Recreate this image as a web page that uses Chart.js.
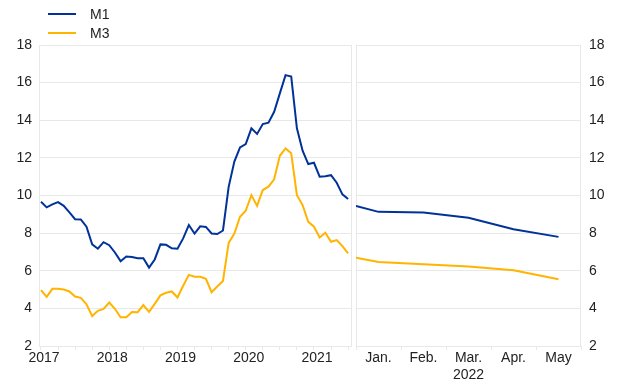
<!DOCTYPE html>
<html>
<head>
<meta charset="utf-8">
<script src="https://cdn.jsdelivr.net/npm/chart.js@4"></script>
<style>
  body { margin: 0; background: #fff; font-family: 'Liberation Sans', Arial, sans-serif; }
  #wrap { position: relative; width: 620px; height: 387px; }
  #left { position: absolute; left: 0; top: 0; }
  #right { position: absolute; left: 355px; top: 0; }
  .leg-line { position: absolute; left: 48px; width: 28px; height: 2px; }
  .leg-text { position: absolute; left: 90px; font-size: 14px; color: #222; line-height: 16px; }
</style>
</head>
<body>
<div id="wrap">
  <canvas id="left" width="355" height="387"></canvas>
  <canvas id="right" width="265" height="387"></canvas>
  <div class="leg-line" style="top:13px;background:#003299"></div>
  <div class="leg-text" style="top:6px">M1</div>
  <div class="leg-line" style="top:32px;background:#FFB400"></div>
  <div class="leg-text" style="top:25px">M3</div>
</div>
<script>
// monthly annual growth rates, Jan 2017 - Jul 2021
const m1 = [9.67, 9.37, 9.53, 9.65, 9.45, 9.1, 8.74, 8.73, 8.34, 7.4, 7.17, 7.52,
  7.36, 6.97, 6.51, 6.76, 6.73, 6.67, 6.67, 6.17, 6.6, 7.4, 7.38, 7.19,
  7.17, 7.72, 8.43, 7.98, 8.36, 8.33, 7.98, 7.95, 8.14, 10.46, 11.8, 12.56,
  12.73, 13.57, 13.27, 13.8, 13.87, 14.45, 15.43, 16.4, 16.32, 13.57, 12.38, 11.67,
  11.74, 11.0, 11.02, 11.08, 10.68, 10.06, 9.81];
const m3 = [4.97, 4.61, 5.04, 5.04, 5.0, 4.9, 4.63, 4.56, 4.22, 3.59, 3.87, 3.97,
  4.31, 3.98, 3.53, 3.53, 3.81, 3.8, 4.17, 3.81, 4.24, 4.69, 4.83, 4.9,
  4.58, 5.2, 5.78, 5.68, 5.68, 5.57, 4.86, 5.16, 5.46, 7.48, 7.98, 8.87,
  9.19, 10.02, 9.45, 10.29, 10.47, 10.86, 12.11, 12.5, 12.24, 10.02, 9.49, 8.6,
  8.34, 7.77, 8.02, 7.54, 7.63, 7.31, 6.92];
const yearLabels = ['2017', '2018', '2019', '2020', '2021'];

// projection panel 2022 (first value is at the panel edge)
const projMonths = ['Jan.', 'Feb.', 'Mar.', 'Apr.', 'May'];
const projYear = '2022';
const projX = [-0.5, 0, 1, 2, 3, 4];
const m1Proj = [9.45, 9.13, 9.1, 8.82, 8.21, 7.8];
const m3Proj = [6.69, 6.46, 6.34, 6.23, 6.03, 5.55];

const style = {
  blue: '#003299',
  yellow: '#FFB400',
  grid: '#e8e8e8',
  text: '#222',
  font: "'Liberation Sans', Arial, sans-serif"
};

Chart.defaults.font.family = style.font;
Chart.defaults.font.size = 14;
Chart.defaults.color = style.text;

// light box round the plot area
const frame = {
  id: 'frame',
  beforeDatasetsDraw(chart) {
    const a = chart.chartArea;
    const ctx = chart.ctx;
    ctx.save();
    ctx.strokeStyle = style.grid;
    ctx.lineWidth = 1;
    ctx.strokeRect(Math.round(a.left) + 0.5, Math.round(a.top) + 0.5,
      Math.round(a.right - a.left) - 1, Math.round(a.bottom - a.top));
    ctx.restore();
  }
};

const lineSet = (label, xs, ys, color) => ({
  label,
  data: ys.map((v, i) => ({ x: xs[i], y: v })),
  borderColor: color,
  backgroundColor: color,
  borderWidth: 2,
  pointRadius: 0,
  tension: 0
});

const yAxis = (position, padding) => ({
  position,
  min: 2,
  max: 18,
  ticks: { stepSize: 2, padding },
  grid: { color: style.grid, drawTicks: false },
  border: { display: false },
  afterFit: (s) => { s.width = 39; }
});

const idx = m1.map((v, i) => i);

new Chart(document.getElementById('left'), {
  type: 'line',
  data: {
    datasets: [lineSet('M1', idx, m1, style.blue), lineSet('M3', idx, m3, style.yellow)]
  },
  options: {
    responsive: false,
    animation: false,
    layout: { padding: { top: 45, right: 3.5, left: 0, bottom: 0 } },
    plugins: { legend: { display: false }, tooltip: { enabled: false } },
    scales: {
      x: {
        type: 'linear',
        min: -0.35,
        max: 54.6,
        afterBuildTicks: (s) => {
          s.ticks = [];
          for (let v = 0; v < m1.length; v += 3) s.ticks.push({ value: v });
        },
        ticks: {
          autoSkip: false,
          maxRotation: 0,
          padding: 0,
          labelOffset: 3,
          callback: (v) => (v % 12 === 0 ? yearLabels[v / 12] : '')
        },
        grid: { color: style.grid, drawOnChartArea: false, tickLength: 4 },
        border: { display: false },
        afterFit: (s) => { s.height = 41; }
      },
      y: yAxis('left', 7)
    }
  },
  plugins: [frame]
});

new Chart(document.getElementById('right'), {
  type: 'line',
  data: {
    datasets: [lineSet('M1', projX, m1Proj, style.blue), lineSet('M3', projX, m3Proj, style.yellow)]
  },
  options: {
    responsive: false,
    animation: false,
    layout: { padding: { top: 45, right: 0, left: 1, bottom: 0 } },
    plugins: { legend: { display: false }, tooltip: { enabled: false } },
    scales: {
      x: {
        type: 'linear',
        min: -0.5,
        max: 4.5,
        afterBuildTicks: (s) => {
          s.ticks = projMonths.map((m, i) => ({ value: i }));
        },
        ticks: {
          autoSkip: false,
          maxRotation: 0,
          padding: 0,
          callback: (v) => (projMonths[v] === 'Mar.' ? [projMonths[v], projYear] : projMonths[v])
        },
        grid: { color: style.grid, drawOnChartArea: false, tickLength: 4, offset: true },
        border: { display: false },
        afterFit: (s) => { s.height = 41; }
      },
      y: yAxis('right', 8)
    }
  },
  plugins: [frame]
});
</script>
</body>
</html>
